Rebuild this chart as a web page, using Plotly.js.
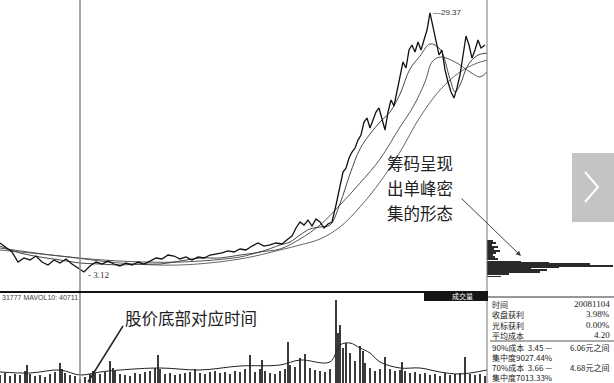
<!DOCTYPE html>
<html><head><meta charset="utf-8">
<script src="https://cdn.plot.ly/plotly-3.0.1.min.js"></script>
<style>html,body{margin:0;padding:0;background:#fff;} #chart{width:614px;height:383px;}</style>
</head><body><div id="chart"></div><script>
// ---- price (daily close) ----
const closeDays = [0,3,6,9,12,15,18,21,24,27,30,33,36,39,42,45,48,51,54,57,60,63,66,69,72,75,78,81,84,87,90,93,96,99,102,105,108,111,114,117,120,123,126,129,132,135,138,141,144,146,148,150,152,154,156,158,160,162,164,166,168,170,171.5,173,174.5,176,177.5,179,180.5,182,183.5,185,186.5,188,189.5,191,192.5,194,195.5,197,198.5,200,201.5,203,204.5,206,207.5,209,210.5,212,213.5,215,216.5,218,219.5,221,222.5,224,225.5,227,228.5,230,231.5,233,234.5,236,237.5,239,240.5,242.5];
const closePrices = [6.06,5.65,5.15,4.13,4.54,4.34,4.74,4.13,3.83,4.34,4.03,4.44,3.93,3.53,3.12,3.73,4.13,3.93,4.23,3.93,3.73,4.03,3.83,4.13,3.93,4.23,4.54,4.44,4.84,4.74,4.44,4.64,4.34,4.64,4.54,4.84,4.94,5.05,5.25,5.15,5.45,5.35,5.75,6.06,5.75,5.86,6.06,5.96,6.46,6.77,7.58,8.19,7.88,8.39,7.78,8.49,8.19,7.58,7.98,8.19,9.91,11.63,13.25,13.65,14.67,15.28,15.68,16.49,17.00,18.32,18.72,17.71,18.52,19.33,19.74,18.72,17.51,19.33,20.55,19.94,21.36,23.08,24.40,23.79,25.61,26.12,25.41,26.42,25.61,26.63,27.64,29.37,27.84,26.63,25.11,25.61,23.59,22.37,21.36,20.75,21.77,23.08,25.11,27.03,26.12,24.80,25.61,26.63,25.81,26.12];
// ---- moving averages ----
const maFastDays = [0,10,20,30,40,50,60,70,80,90,100,110,120,130,140,145,150,155,160,165,170,175,180,185,190,195,200,205,210,215,220,225,227.5,230,234,239,243.5];
const maFastPrices = [5.75,5.05,4.64,4.34,4.03,3.93,3.83,3.93,3.93,4.23,4.54,4.54,4.84,5.15,5.86,6.16,6.87,7.48,7.68,7.88,10.05,13.05,15.59,17.10,18.32,19.33,21.15,23.69,25.00,26.22,25.71,22.67,21.36,22.07,24.09,25.10,25.30];
const maMidDays = [0,30,60,90,120,130,140,150,160,170,180,190,200,206.5,212.5,216,220,227.5,235,240,243.5];
const maMidPrices = [5.55,4.74,4.23,4.13,4.64,5.15,5.45,6.46,7.88,9.91,12.13,14.56,17.81,19.84,22.37,24.40,24.90,24.40,23.39,22.88,23.39];
const maLongDays = [0,30,60,90,120,140,150,160,170,180,190,200,210,220,230,237.5,243.5];
const maLongPrices = [5.35,4.74,4.03,3.83,4.44,5.35,5.86,6.46,7.68,9.71,12.23,15.28,18.82,21.56,23.39,24.20,24.60];
// ---- volume (x1000 lots) ----
const volDays = [0,2.5,5,7.5,10,12.5,13.5,15,17.5,20,22.5,25,27.5,30,31,32.5,35,37.5,40,42.5,45,46.5,47.5,50,52.5,55,56.5,57.5,60,62.5,65,67.5,70,72.5,75,77.5,79,80,82.5,85,87.5,90,92.5,95,97.5,100,102.5,105,107.5,110,112.5,115,117.5,120,122.5,125,127.5,130,131,132.5,135,137.5,140,142.5,144,145,147.5,150,152.5,155,157.5,160,162.5,165,168,169,170,171.5,173,175,177.5,180,181.5,182.5,185,187.5,190,192.5,195,197.5,200,201,202.5,205,207.5,210,212.5,215,217.5,220,222.5,225,227.5,230,232.5,235,237.5,240,242.5];
const volumes = [8,10,7,9,8,12,18,9,7,8,6,9,11,20,14,10,8,7,4,6,9,12,10,9,11,22,15,12,9,8,7,10,9,11,12,15,28,14,9,10,8,9,10,11,14,10,9,11,12,10,11,9,12,11,14,28,11,14,23,12,10,9,12,14,41,18,16,25,29,15,13,12,11,14,83,50,58,35,40,30,22,37,32,20,15,12,14,26,14,12,13,21,12,10,11,9,10,8,9,7,10,8,9,10,26,9,8,9,7];
const volMaDays = [0,15,30,40,50,60,80,100,120,140,150,165,170,175,180,185,190,200,210,220,230,243.5];
const volMa = [11,10,13,8,11,13,15,13,17,18,23,21,38,40,35,30,21,15,15,11,9,13];
// ---- chip distribution ----
const chipPrices = [6.26,6.06,5.86,5.65,5.45,5.25,5.05,4.84,4.64,4.44,4.23,4.13,4.03,3.93,3.83,3.73,3.63,3.53,3.32,3.12,2.92,2.71];
const chipAmounts = [6,9,5,11,7,13,9,6,8,11,16,34,62,103,82,126,72,44,60,53,22,14];
// ---- info table ----
const infoLabels = ["时间","收盘获利","光标获利","平均成本"];
const infoValues = ["20081104","3.98%","0.00%","4.20"];
const costRows = ["90%成本  3.45 —","集中度9027.44%","70%成本  3.66 —","集中度7013.33%"];
const costRight = ["6.06元之间","","4.68元之间",""];
const peakLabel = "29.37", lowLabel = "3.12";

const W=614,H=383;
const px = x => x/W, py = y => 1 - y/H;
const ink = '#111';
const traces = [
  {x:maLongDays,y:maLongPrices,xaxis:'x',yaxis:'y',mode:'lines',line:{color:'#555',width:0.9,shape:'spline'},hoverinfo:'skip'},
  {x:maMidDays,y:maMidPrices,xaxis:'x',yaxis:'y',mode:'lines',line:{color:'#444',width:0.9,shape:'spline'},hoverinfo:'skip'},
  {x:maFastDays,y:maFastPrices,xaxis:'x',yaxis:'y',mode:'lines',line:{color:'#333',width:0.9,shape:'spline'},hoverinfo:'skip'},
  {x:closeDays,y:closePrices,xaxis:'x',yaxis:'y',mode:'lines',line:{color:ink,width:1.3},hoverinfo:'skip'},
  {type:'bar',x:volDays,y:volumes,xaxis:'x2',yaxis:'y2',marker:{color:'#3a3a3a',line:{width:0}},width:0.8,hoverinfo:'skip'},
  {x:volMaDays,y:volMa,xaxis:'x2',yaxis:'y2',mode:'lines',line:{color:'#222',width:1,shape:'spline'},hoverinfo:'skip'},
  {type:'bar',orientation:'h',x:chipAmounts,y:chipPrices,xaxis:'x3',yaxis:'y',marker:{color:'#2a2a2a',line:{width:0}},width:0.11,hoverinfo:'skip'}
];
const hid = {visible:false,showgrid:false,zeroline:false,fixedrange:true};
const iPeak = closePrices.indexOf(Math.max(...closePrices));
const iLow = closePrices.indexOf(Math.min(...closePrices));
const annotations = [
  {x:closeDays[iPeak],y:closePrices[iPeak],xref:'x',yref:'y',text:'—'+peakLabel,showarrow:false,xanchor:'left',yanchor:'middle',xshift:1,font:{family:'Liberation Sans',size:8,color:'#333'}},
  {x:closeDays[iLow],y:closePrices[iLow],xref:'x',yref:'y',text:'- '+lowLabel,showarrow:false,xanchor:'left',yanchor:'middle',xshift:2,yshift:-3,font:{family:'Liberation Serif',size:9,color:'#333'}},
  {x:px(385),y:py(163),xref:'paper',yref:'paper',text:'筹码呈现',showarrow:false,xanchor:'left',yanchor:'middle',font:{family:'Noto Sans CJK SC',size:16.5,color:'#222'}},
  {x:px(385),y:py(188),xref:'paper',yref:'paper',text:'出单峰密',showarrow:false,xanchor:'left',yanchor:'middle',font:{family:'Noto Sans CJK SC',size:16.5,color:'#222'}},
  {x:px(385),y:py(213),xref:'paper',yref:'paper',text:'集的形态',showarrow:false,xanchor:'left',yanchor:'middle',font:{family:'Noto Sans CJK SC',size:16.5,color:'#222'}},
  {x:px(123),y:py(318),xref:'paper',yref:'paper',text:'股价底部对应时间',showarrow:false,xanchor:'left',yanchor:'middle',font:{family:'Noto Sans CJK SC',size:16.5,color:'#222'}},
  {x:px(521),y:py(256),xref:'paper',yref:'paper',ax:-61,ay:-59,text:'',showarrow:true,arrowhead:2,arrowsize:1,arrowwidth:1,arrowcolor:'#444'},
  {x:px(0),y:py(297),xref:'paper',yref:'paper',text:'31777 MAVOL10: 40711',showarrow:false,xanchor:'left',yanchor:'middle',font:{family:'Liberation Sans Narrow, Liberation Sans',size:7,color:'#444'}},
  {x:px(462),y:py(296),xref:'paper',yref:'paper',text:'成交量',showarrow:false,xanchor:'center',yanchor:'middle',font:{family:'Noto Sans CJK SC',size:7,color:'#fff'}}
];
const rowY = [304,314,325,335];
infoLabels.forEach((t,i)=>{
  annotations.push({x:px(490),y:py(rowY[i]),xref:'paper',yref:'paper',text:t,showarrow:false,xanchor:'left',yanchor:'middle',font:{family:'Noto Sans CJK SC',size:8,color:'#222'}});
  annotations.push({x:px(612),y:py(rowY[i]),xref:'paper',yref:'paper',text:infoValues[i],showarrow:false,xanchor:'right',yanchor:'middle',font:{family:'Liberation Serif',size:9,color:'#222'}});
});
const costY = [347,357,367,377];
costRows.forEach((t,i)=>{
  annotations.push({x:px(490),y:py(costY[i]),xref:'paper',yref:'paper',text:t,showarrow:false,xanchor:'left',yanchor:'middle',font:{family:'Noto Sans CJK SC',size:8,color:'#222'}});
  if(costRight[i]) annotations.push({x:px(612),y:py(costY[i]),xref:'paper',yref:'paper',text:costRight[i],showarrow:false,xanchor:'right',yanchor:'middle',font:{family:'Noto Sans CJK SC',size:8,color:'#222'}});
});
const L = (x0,y0,x1,y1,c,w)=>({type:'line',xref:'paper',yref:'paper',x0:px(x0),y0:py(y0),x1:px(x1),y1:py(y1),line:{color:c,width:w}});
const shapes = [
  L(80,0,80,383,'#8a8a8a',1.5),
  L(487,0,487,383,'#777',1),
  L(0,292,487,292,'#111',2),
  L(487,297,614,297,'#333',1),
  L(490,341,614,341,'#555',1),
  L(123,326,88,382,'#222',1.5),
  {type:'rect',xref:'paper',yref:'paper',x0:px(424),x1:px(488),y0:py(291),y1:py(301),fillcolor:'#151515',line:{width:0}},
  {type:'rect',xref:'paper',yref:'paper',x0:px(572),x1:px(614),y0:py(153),y1:py(222),fillcolor:'#c4c4c4',line:{width:0}},
  {type:'path',xref:'paper',yref:'paper',path:`M ${px(585)} ${py(172)} L ${px(598)} ${py(187)} L ${px(585)} ${py(202)}`,line:{color:'#fff',width:2}}
];
const layout = {
  width:W,height:H,margin:{l:0,r:0,t:0,b:0},paper_bgcolor:'#fff',plot_bgcolor:'rgba(0,0,0,0)',showlegend:false,bargap:0,
  xaxis:Object.assign({domain:[0,487/W],range:[0,243.5],anchor:'y'},hid),
  yaxis:Object.assign({domain:[91/H,1],range:[1.094,30.68],anchor:'x'},hid),
  xaxis2:Object.assign({domain:[0,487/W],range:[0,243.5],anchor:'y2'},hid),
  yaxis2:Object.assign({domain:[0,90/H],range:[0,90],anchor:'x2'},hid),
  xaxis3:Object.assign({domain:[487/W,1],range:[0,127],anchor:'y'},hid),
  annotations:annotations,shapes:shapes
};
Plotly.newPlot('chart',traces,layout,{staticPlot:true,displayModeBar:false});
</script></body></html>
